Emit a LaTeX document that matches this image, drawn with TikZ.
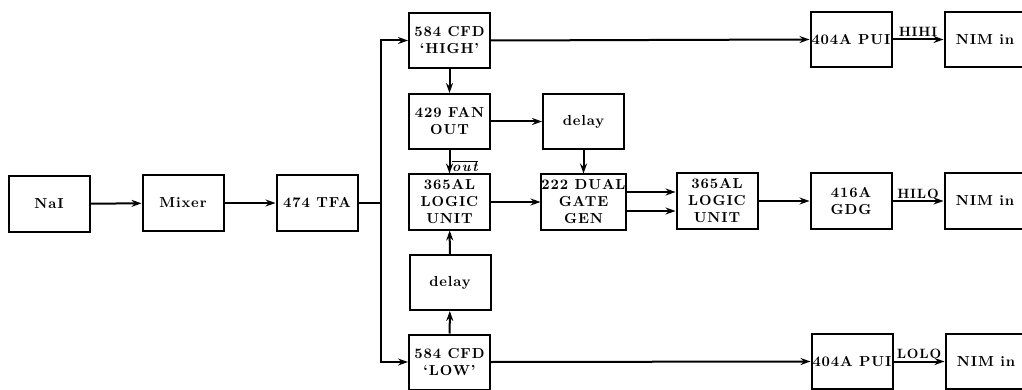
\documentclass[tikz,border=0pt]{standalone}
\usepackage{fontspec}
\newfontfamily\boxfont[LetterSpace=6]{lmroman10-bold.otf}
\newfontfamily\boxitfont[LetterSpace=12]{lmroman10-bolditalic.otf}
\usetikzlibrary{arrows.meta,calc}
\tikzset{
  box/.style={draw, line width=2pt, minimum width=81pt, minimum height=55pt, inner sep=0pt, align=center,
    font=\boxfont\fontsize{14.5}{17}\selectfont},
  lbl/.style={inner sep=1.5pt, font=\boxfont\fontsize{13.5}{15}\selectfont},
  arr/.style={line width=2pt, -{Stealth[length=10pt,width=7pt]}},
  ln/.style={line width=2pt}
}
\begin{document}
\begin{tikzpicture}[x=1pt,y=-1pt]
\useasboundingbox[fill=white] (0,0) rectangle (1022,390);
\node[box] (nai) at (49,204) {NaI};
\node[box] (mix) at (183,203) {Mixer};
\node[box] (tfa) at (317,203) {474 TFA};
\node[box] (cfdh) at (449.5,40.5) {584 CFD\\‘HIGH’};
\node[box] (fan) at (449.5,121.5) {429 FAN\\OUT};
\node[box] (dl1) at (583.5,121.5) {delay};
\node[box] (lu1) at (449.5,202) {365AL\\LOGIC\\UNIT};
\node[box] (dg) at (583.5,202) {222 DUAL\\GATE\\GEN};
\node[box] (dl2) at (450,282.5) {delay};
\node[box] (cfdl) at (449.5,362) {584 CFD\\‘LOW’};
\node[box] (lu2) at (717,201) {365AL\\LOGIC\\UNIT};
\node[box] (gdg) at (851,201) {416A\\GDG};
\node[box] (pui1) at (851,39.5) {404A PUI};
\node[box] (pui2) at (852,361.5) {404A PUI};
\node[box] (nim1) at (985,39.5) {NIM in};
\node[box] (nim2) at (985,201) {NIM in};
\node[box] (nim3) at (986,361.5) {NIM in};

\draw[arr] (nai) -- (mix);
\draw[arr] (mix) -- (tfa);
\draw[ln] (tfa.east) -- ++(22,0) coordinate (bus);
\draw[arr] (bus) |- (cfdh.west);
\draw[arr] (bus) |- (cfdl.west);
\draw[arr] (cfdh.east) -- (pui1.west);
\draw[arr] (cfdl.east) -- (pui2.west);
\draw[arr] (cfdh) -- (fan);
\draw[arr] (fan) -- (dl1);
\draw[arr] (fan) -- node[lbl, right, pos=0.7, xshift=1pt, inner sep=0.5pt]{$\overline{\mbox{\boxitfont\fontsize{14}{15}\selectfont out}}$} (lu1);
\draw[arr] (dl1) -- (dg);
\draw[arr] (lu1) -- (dg);
\draw[arr] (cfdl) -- (dl2);
\draw[arr] (dl2) -- (lu1);
\draw[arr] ([yshift=10pt]dg.east) -- ([yshift=10pt]dg.east -| lu2.west);
\draw[arr] ([yshift=-9pt]dg.east) -- ([yshift=-9pt]dg.east -| lu2.west);
\draw[arr] (lu2) -- (gdg);
\draw[arr] (pui1) -- node[lbl, above]{HIHI} (nim1);
\draw[arr] (gdg) -- node[lbl, above]{HILO} (nim2);
\draw[arr] (pui2) -- node[lbl, above]{LOLO} (nim3);
\end{tikzpicture}
\end{document}
